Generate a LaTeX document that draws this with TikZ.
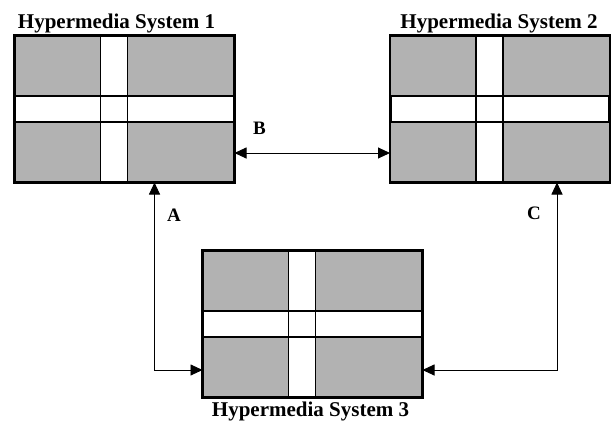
\documentclass[tikz,border=0pt]{standalone}
\usepackage{fontspec}
\setmainfont{Liberation Serif}
\usetikzlibrary{calc,arrows.meta}
\begin{document}
\begin{tikzpicture}[x=1pt,y=-1pt,
  sysbox/.style={draw=black, line width=2.6pt, fill=black!30, minimum width=220pt, minimum height=147pt, inner sep=0pt, outer sep=0pt},
  bar/.style={draw=black, line width=1.1pt, fill=white},
  title/.style={font=\fontsize{21}{24}\selectfont\bfseries, anchor=base, inner sep=0pt},
  lbl/.style={font=\fontsize{19}{22}\selectfont\bfseries, inner sep=0pt},
  link/.style={line width=0.9pt, {Triangle[length=12pt,width=11pt]}-{Triangle[length=12pt,width=11pt]}}]
\useasboundingbox (0,0) rectangle (614,423);
\node[sysbox] (s1) at (124.5,109) {};
\node[sysbox] (s2) at (500,109) {};
\node[sysbox] (s3) at (312.5,324) {};
\foreach \n in {s1,s2,s3}{
  \fill[white] ($(\n.west)+(1,-13)$) rectangle ($(\n.east)+(-1,13)$);
  \fill[white] ($(\n.north)+(-24,0)$) rectangle ($(\n.south)+(3,0)$);
  \draw[line width=1.1pt] ($(\n.west)+(1,-13)$) rectangle ($(\n.east)+(-1,13)$);
  \draw[line width=1.1pt] ($(\n.north)+(-24,0)$) rectangle ($(\n.south)+(3,0)$);
  \draw[line width=2.6pt] (\n.north west) rectangle (\n.south east);
}
\node[title] (t1) at ($(s1.north)+(-8,-7)$) {Hypermedia System 1};
\node[title] (t2) at ($(s2.north)+(-1,-7)$) {Hypermedia System 2};
\node[title] (t3) at ($(s3.south)+(-2,19)$) {Hypermedia System 3};
\draw[link] ([yshift=-44pt]s1.east) -- ([yshift=-44pt]s2.west);
\draw[link] ([xshift=30pt]s1.south) |- ([yshift=-46pt]s3.west);
\draw[link] ([xshift=57pt]s2.south) |- ([yshift=-46pt]s3.east);
\node[lbl] (lb) at (259.5,128) {B};
\node[lbl] (la) at (174,215) {A};
\node[lbl] (lc) at (534,213) {C};
\end{tikzpicture}
\end{document}
